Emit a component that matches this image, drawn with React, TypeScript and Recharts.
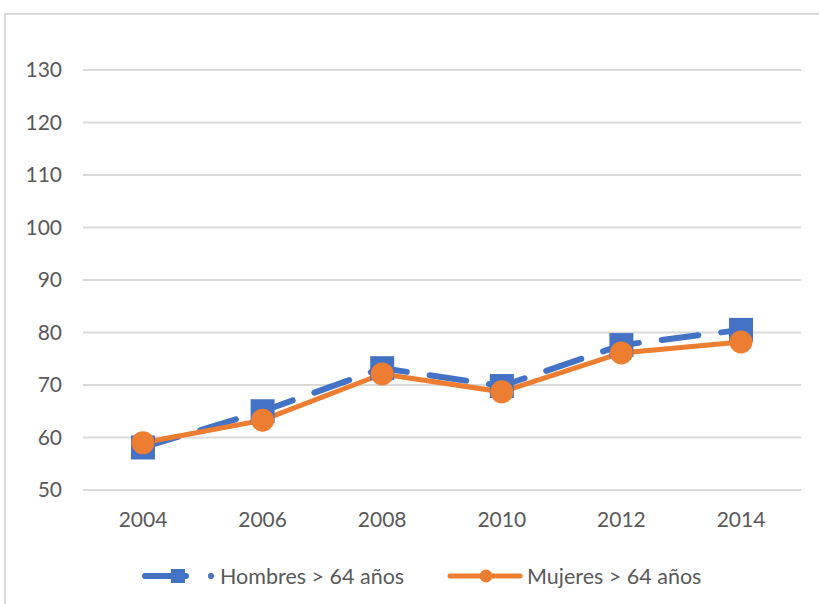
import React from 'react';
import { LineChart, Line, XAxis, YAxis, CartesianGrid, Legend } from 'recharts';

const years = ['2004', '2006', '2008', '2010', '2012', '2014'];
const hombres = [58.1, 65.0, 73.2, 69.8, 77.6, 80.5];
const mujeres = [59.0, 63.3, 72.1, 68.7, 76.1, 78.2];
const yTicks = [50, 60, 70, 80, 90, 100, 110, 120, 130];
const seriesNames = ['Hombres > 64 años', 'Mujeres > 64 años'];

const data = years.map((y, i) => ({ year: y, h: hombres[i], m: mujeres[i] }));

const BLUE = '#4472C4';
const ORANGE = '#ED7D31';
const TEXT = '#595959';
const FONT = 'Lato, "Open Sans", sans-serif';

const SquareDot = (props: any) => {
  const { cx, cy, index } = props;
  if (cx == null || cy == null) return null;
  return <rect key={'sq' + index} x={cx - 12} y={cy - 12} width={24} height={24} fill={BLUE} />;
};

const CircleDot = (props: any) => {
  const { cx, cy, index } = props;
  if (cx == null || cy == null) return null;
  return <ellipse key={'ci' + index} cx={cx} cy={cy} rx={11.5} ry={11.5} fill={ORANGE} />;
};

const LegendContent = () => (
  <svg width={819} height={70} style={{ display: 'block' }}>
    <g>
      <line x1={145} y1={42} x2={186} y2={42} stroke={BLUE} strokeWidth={6} strokeLinecap="round" />
      <rect x={171} y={35} width={14} height={14} fill={BLUE} />
      <circle cx={211} cy={42} r={3} fill={BLUE} />
      <text x={220} y={42} dy="0.355em" fill={TEXT} fontSize={21.5} fontFamily={FONT}>{seriesNames[0]}</text>
    </g>
    <g>
      <line x1={450} y1={42} x2={520} y2={42} stroke={ORANGE} strokeWidth={5} strokeLinecap="round" />
      <circle cx={486} cy={42} r={6.5} fill={ORANGE} />
      <text x={527} y={42} dy="0.355em" fill={TEXT} fontSize={21.5} fontFamily={FONT}>{seriesNames[1]}</text>
    </g>
  </svg>
);

export default function App() {
  return (
    <div style={{ position: 'absolute', left: 0, top: 0, width: 819, height: 604, overflow: 'hidden', background: '#fff' }}>
      <div style={{ position: 'absolute', left: 4, top: 13, width: 900, height: 700, border: '2px solid #d9d9d9', boxSizing: 'border-box' }} />
      <LineChart width={819} height={604} data={data} margin={{ top: 70, right: 18, bottom: 0, left: 0 }}>
        <CartesianGrid vertical={false} stroke="#d9d9d9" strokeWidth={2} />
        <XAxis
          dataKey="year"
          axisLine={false}
          tickLine={false}
          tickSize={0}
          tickMargin={22}
          height={44}
          padding={{ left: 60, right: 60 }}
          tick={{ fill: TEXT, fontSize: 21, fontFamily: FONT }}
        />
        <YAxis
          domain={[50, 130]}
          ticks={yTicks}
          axisLine={false}
          tickLine={false}
          tickSize={0}
          tickMargin={21}
          width={83}
          tick={{ fill: TEXT, fontSize: 21, fontFamily: FONT }}
        />
        <Legend
          verticalAlign="bottom"
          height={70}
          wrapperStyle={{ left: 0, width: 819, bottom: 0 }}
          content={<LegendContent />}
        />
        <Line
          type="linear"
          dataKey="h"
          name={seriesNames[0]}
          stroke={BLUE}
          strokeWidth={6}
          strokeDasharray="37 23"
          strokeLinecap="round"
          dot={SquareDot}
          isAnimationActive={false}
        />
        <Line
          type="linear"
          dataKey="m"
          name={seriesNames[1]}
          stroke={ORANGE}
          strokeWidth={5}
          dot={CircleDot}
          isAnimationActive={false}
        />
      </LineChart>
    </div>
  );
}
